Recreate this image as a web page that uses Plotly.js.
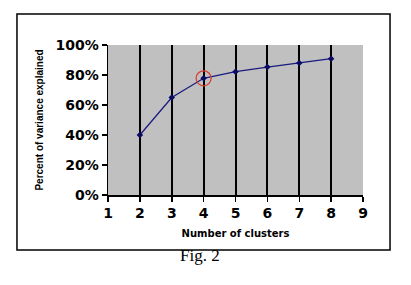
<!DOCTYPE html>
<html><head><meta charset="utf-8">
<script src="https://cdn.plot.ly/plotly-3.0.1.min.js"></script>
<style>html,body{margin:0;padding:0;background:#fff;}#chart{width:411px;height:285px;}</style>
</head><body><div id="chart"></div>
<script>
const clusters = [2, 3, 4, 5, 6, 7, 8];
const varianceExplained = [0.40, 0.65, 0.778, 0.822, 0.853, 0.88, 0.909];
const highlightCluster = [4];
const highlightValue = [0.778];
const xTicks = [1, 2, 3, 4, 5, 6, 7, 8, 9];
const yTicks = [0, 0.2, 0.4, 0.6, 0.8, 1.0];

const data = [
  {x: clusters, y: varianceExplained, type: 'scatter', mode: 'lines+markers',
   line: {color: '#1a1a80', width: 1.3},
   marker: {symbol: 'diamond', size: 5, color: '#0a0a60'}, hoverinfo: 'none'},
  {x: highlightCluster, y: highlightValue, type: 'scatter', mode: 'markers',
   marker: {symbol: 'circle-open', size: 15, color: '#d84030', line: {width: 1.3, color: '#d84030'}}, hoverinfo: 'none'}
];
const layout = {
  width: 411, height: 285,
  margin: {l: 108, r: 48, t: 45, b: 90},
  paper_bgcolor: '#ffffff', plot_bgcolor: '#c0c0c0',
  showlegend: false,
  font: {family: 'Arial, Liberation Sans, sans-serif', color: '#000'},
  xaxis: {range: [1, 9], tickvals: xTicks, ticktext: xTicks.map(String),
    showgrid: true, gridcolor: '#000', gridwidth: 2,
    showline: true, linecolor: '#000', linewidth: 1.5,
    ticks: 'outside', ticklen: 5, tickcolor: '#000', tickwidth: 1.5,
    tickfont: {size: 14, family: 'DejaVu Sans, sans-serif', weight: 'bold'},
    zeroline: false,
    title: {text: '<b>Number of clusters</b>', font: {size: 10, family: 'DejaVu Sans, sans-serif'}, standoff: 9}},
  yaxis: {range: [0, 1], tickvals: yTicks, tickformat: '.0%',
    showgrid: false, showline: true, linecolor: '#000', linewidth: 1.5,
    ticks: 'outside', ticklen: 5, tickcolor: '#000', tickwidth: 1.5,
    tickfont: {size: 14, family: 'DejaVu Sans, sans-serif', weight: 'bold'},
    zeroline: false,
    title: {text: '<b>Percent of variance explained</b>', font: {size: 10, family: 'Liberation Sans, Arial, sans-serif'}, standoff: 10}},
  shapes: [
    {type: 'rect', xref: 'paper', yref: 'paper', x0: -0.357, x1: 1.106, y0: -0.367, y1: 1.207,
     line: {color: '#000', width: 1.5}, fillcolor: 'rgba(0,0,0,0)', layer: 'below'}
  ],
  annotations: [
    {text: 'Fig. 2', xref: 'paper', yref: 'paper', x: 0.361, y: -0.48, showarrow: false,
     font: {family: 'Liberation Serif, Times New Roman, serif', size: 17, color: '#000'}}
  ]
};
Plotly.newPlot('chart', data, layout, {staticPlot: true, displayModeBar: false});
</script></body></html>
